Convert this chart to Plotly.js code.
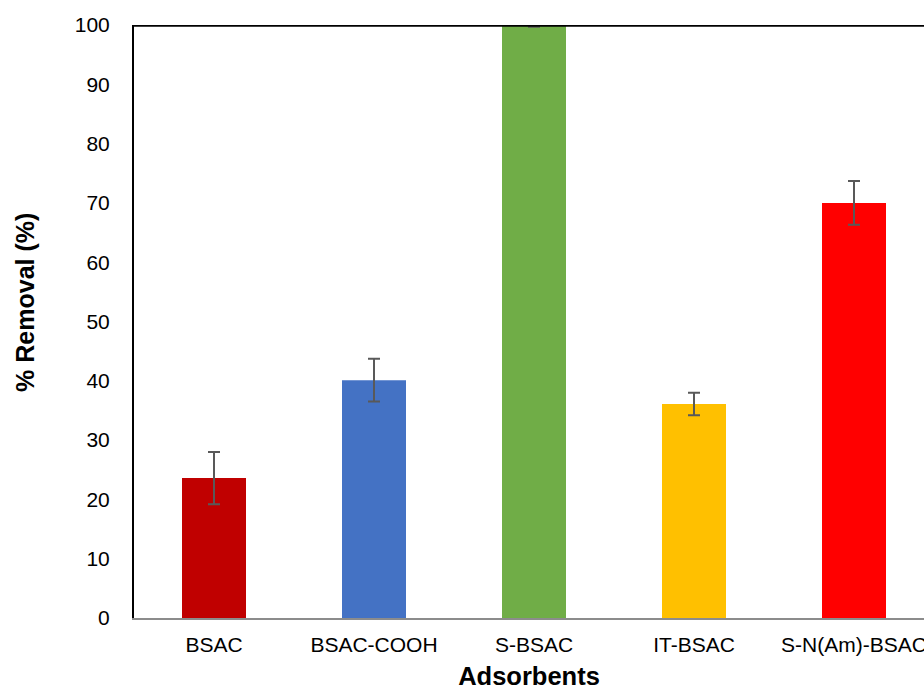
<!DOCTYPE html>
<html>
<head>
<meta charset="utf-8">
<script src="https://cdn.plot.ly/plotly-3.0.1.min.js"></script>
<style>
  html, body { margin: 0; padding: 0; background: #fff; }
  #chart { width: 924px; height: 692px; }
</style>
</head>
<body>
<div id="chart"></div>
<script>
// Removal efficiency of each adsorbent, with standard deviation
const adsorbents = ['BSAC', 'BSAC-COOH', 'S-BSAC', 'IT-BSAC', 'S-N(Am)-BSAC'];
const removal = [23.6, 40.1, 99.9, 36.1, 70.0];
const removalErr = [4.4, 3.6, 0.2, 1.9, 3.7];
const barColors = ['#C00000', '#4472C4', '#70AD47', '#FFC000', '#FF0000'];
const yTicks = [0, 10, 20, 30, 40, 50, 60, 70, 80, 90, 100];

const trace = {
  type: 'bar',
  x: adsorbents.map((_, i) => i),
  y: removal,
  width: 0.4,
  marker: { color: barColors, line: { width: 0 } },
  error_y: {
    type: 'data',
    array: removalErr,
    visible: true,
    color: '#595959',
    thickness: 2,
    width: 6
  },
  hoverinfo: 'skip'
};

const layout = {
  width: 924,
  height: 692,
  margin: { l: 134, r: 0, t: 25, b: 74, pad: 0 },
  paper_bgcolor: '#ffffff',
  plot_bgcolor: '#ffffff',
  font: { family: 'Liberation Sans, Arial, sans-serif', color: '#000000' },
  showlegend: false,
  xaxis: {
    range: [-0.5, 4.4375],
    tickmode: 'array',
    tickvals: adsorbents.map((_, i) => i),
    ticktext: adsorbents,
    tickfont: { size: 21, color: '#000000' },
    ticklabeloverflow: 'allow',
    ticks: 'outside',
    ticklen: 7,
    tickcolor: 'rgba(0,0,0,0)',
    showline: true,
    linecolor: '#8c8c8c',
    linewidth: 2,
    showgrid: false,
    zeroline: false,
    fixedrange: true,
    title: {
      text: '<b>Adsorbents</b>',
      font: { size: 25.5, color: '#000000' },
      standoff: 12
    }
  },
  yaxis: {
    range: [0, 100],
    tickmode: 'array',
    tickvals: yTicks,
    ticktext: yTicks.map(String),
    tickfont: { size: 21, color: '#000000' },
    ticks: 'outside',
    ticklen: 18,
    tickcolor: 'rgba(0,0,0,0)',
    showline: true,
    linecolor: '#000000',
    linewidth: 2,
    showgrid: false,
    zeroline: false,
    fixedrange: true
  },
  annotations: [
    {
      // y-axis title, placed slightly above the plot's vertical centre
      text: '<b>% Removal (%)</b>',
      font: { size: 25, color: '#000000' },
      textangle: -90,
      xref: 'paper', yref: 'paper',
      x: -0.138, y: 0.533,
      xanchor: 'center', yanchor: 'middle',
      showarrow: false
    }
  ],
  shapes: [
    {
      type: 'line', xref: 'paper', yref: 'y',
      x0: 0, x1: 1, y0: 100, y1: 100,
      line: { color: '#000000', width: 3.5 }
    }
  ]
};

Plotly.newPlot('chart', [trace], layout, { displayModeBar: false, staticPlot: true });
</script>
</body>
</html>
